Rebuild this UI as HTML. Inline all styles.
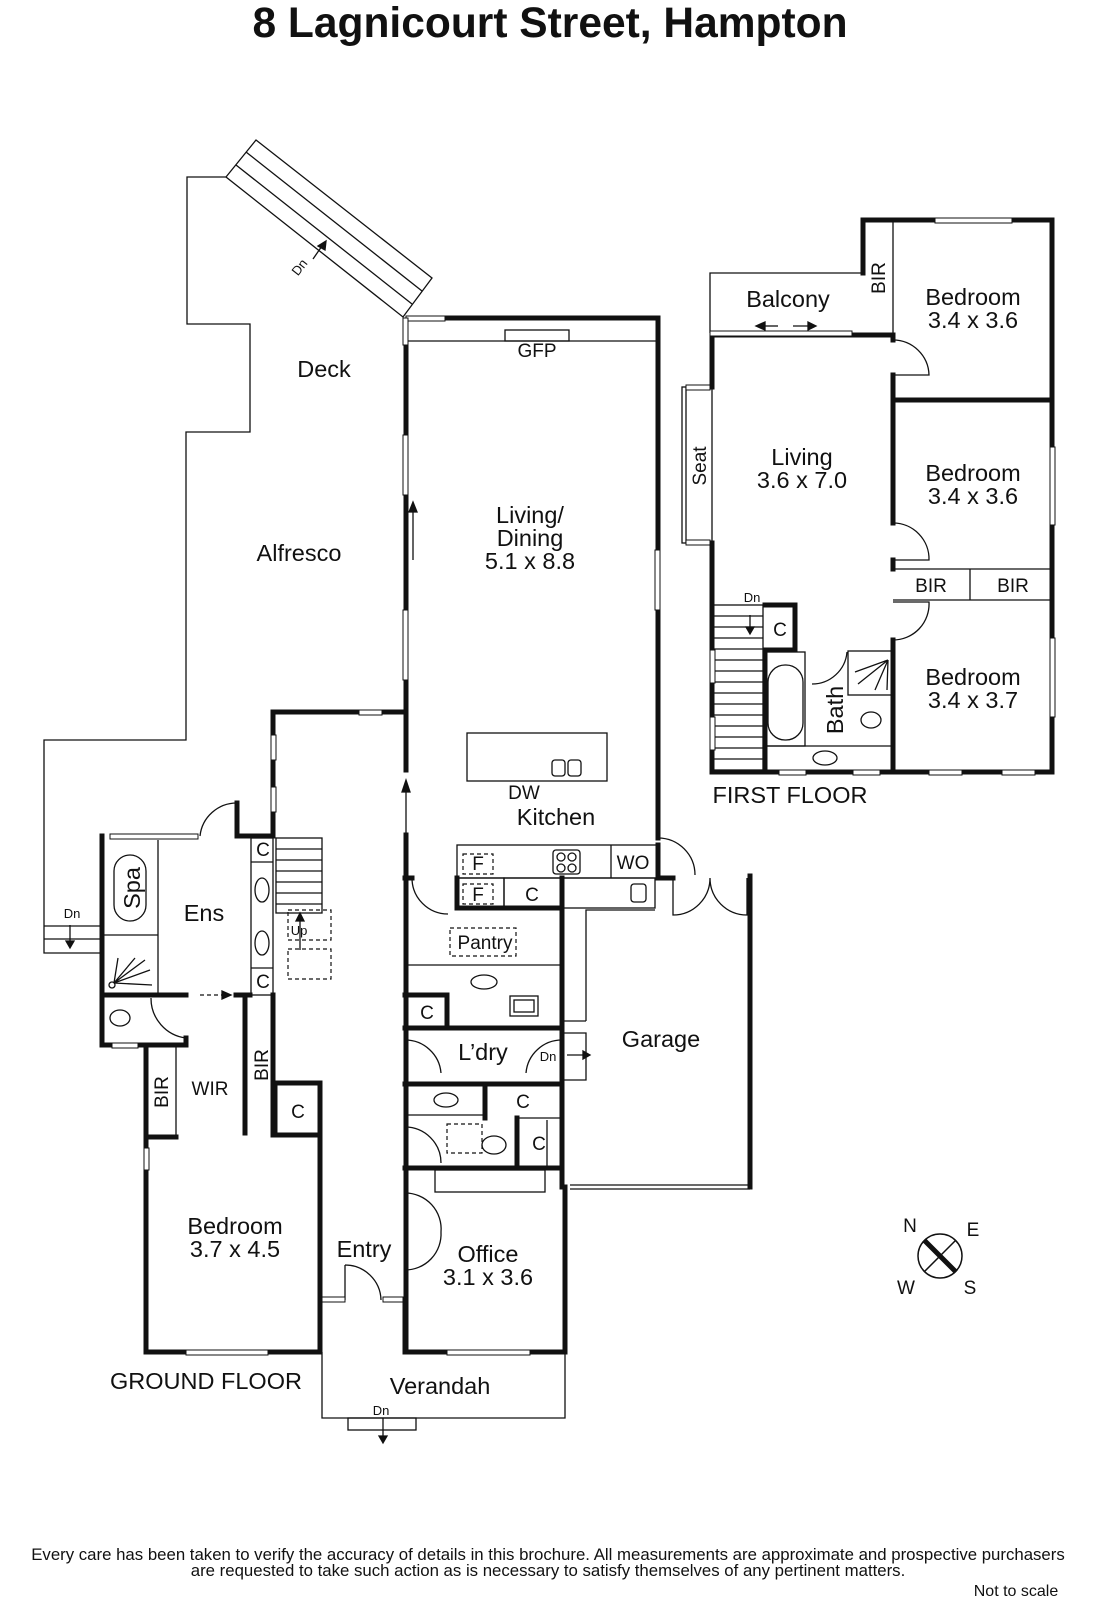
<!DOCTYPE html>
<html><head><meta charset="utf-8"><style>
html,body{margin:0;padding:0;background:#fff}
svg{display:block}
text{font-family:"Liberation Sans",sans-serif;fill:#111}
.t{font-size:23.5px;text-anchor:middle}
.s{font-size:19px;text-anchor:middle}
.xs{font-size:13px;text-anchor:middle}
</style></head><body>
<svg width="1096" height="1600" viewBox="0 0 1096 1600" xmlns="http://www.w3.org/2000/svg">
<text x="550" y="37" style="font-size:42.5px;font-weight:bold;text-anchor:middle">8 Lagnicourt Street, Hampton</text>

<g fill="none" stroke="#111" stroke-width="1.3">
<polygon points="256,140 432,278 403,317 226,177"/>
<line x1="246" y1="152" x2="422" y2="291"/>
<line x1="236" y1="165" x2="412" y2="304"/>
<polyline points="226,177 187,177 187,324 250,324 250,432 186,432 186,740 44,740 44,953 100,953"/>
<line x1="44" y1="926" x2="100" y2="926"/><line x1="44" y1="939" x2="100" y2="939"/>
<polyline points="322,1352 322,1418 565,1418 565,1352"/>
<rect x="348" y="1418" width="68" height="12"/>
<line x1="406" y1="341" x2="658" y2="341"/>
<rect x="505" y="330" width="64" height="11"/>
<rect x="467" y="733" width="140" height="48"/>
<rect x="552" y="760" width="13" height="16" rx="3"/><rect x="568" y="760" width="13" height="16" rx="3"/>
<rect x="457" y="845" width="200" height="33"/>
<line x1="611" y1="845" x2="611" y2="878"/>
<rect x="553" y="850" width="27" height="24" rx="3"/>
<circle cx="561" cy="857" r="4"/><circle cx="572" cy="857" r="4"/><circle cx="561" cy="868" r="4"/><circle cx="572" cy="868" r="4"/>
<rect x="457" y="878" width="47" height="30"/><rect x="504" y="878" width="58" height="30"/>
<rect x="562" y="878" width="93" height="30"/><rect x="631" y="884" width="15" height="18" rx="3"/>
<polyline points="586,1021 586,910 655,910"/><line x1="562" y1="1021" x2="586" y2="1021"/>
<line x1="405" y1="965" x2="562" y2="965"/>
<ellipse cx="484" cy="982" rx="13" ry="7"/>
<rect x="510" y="996" width="28" height="20"/><rect x="514" y="1000" width="20" height="12"/>
<line x1="405" y1="1115" x2="485" y2="1115"/>
<ellipse cx="446" cy="1100" rx="12" ry="7"/>
<rect x="435" y="1170" width="110" height="22"/>
<ellipse cx="494" cy="1145" rx="12" ry="9"/>
<line x1="570" y1="1185" x2="750" y2="1185"/><line x1="570" y1="1189" x2="750" y2="1189"/>
<path d="M673,878 L673,915 A37,37 0 0 0 710,878 M747,878 L747,915 A37,37 0 0 1 710,878"/>
<line x1="158" y1="840" x2="158" y2="993"/><line x1="102" y1="935" x2="158" y2="935"/>
<rect x="114" y="855" width="32" height="66" rx="16"/>
<circle cx="112" cy="985" r="3"/>
<path d="M114,983 L145,960 M114,983 L150,970 M114,983 L152,985 M114,983 L135,958 M114,983 L118,958"/>
<rect x="251" y="838" width="22" height="157"/>
<line x1="251" y1="862" x2="273" y2="862"/><line x1="251" y1="968" x2="273" y2="968"/>
<ellipse cx="262" cy="890" rx="7" ry="12"/><ellipse cx="262" cy="943" rx="7" ry="12"/>
<rect x="276" y="838" width="46" height="75"/>
<line x1="276" y1="849" x2="322" y2="849"/><line x1="276" y1="860" x2="322" y2="860"/><line x1="276" y1="871" x2="322" y2="871"/><line x1="276" y1="882" x2="322" y2="882"/><line x1="276" y1="893" x2="322" y2="893"/><line x1="276" y1="904" x2="322" y2="904"/>
<ellipse cx="120" cy="1018" rx="10" ry="8"/>
<path d="M151,998 A40,40 0 0 0 186,1038"/>
<line x1="176" y1="1045" x2="176" y2="1137"/>
<path d="M200,836 A37,37 0 0 1 237,803"/>
<path d="M405,1040 A36,36 0 0 1 441,1073 M562,1040 A36,36 0 0 0 526,1073"/>
<path d="M405,1127 A36,36 0 0 1 441,1163"/>
<path d="M405,1193 A36,36 0 0 1 441,1232 M405,1270 A36,36 0 0 0 441,1232"/>
<path d="M345,1265 A36,36 0 0 1 381,1300 M345,1265 L345,1300"/>
<path d="M412,878 A36,36 0 0 0 448,914"/>
<path d="M658,838 A37,37 0 0 1 695,875"/>
<polyline points="562,1033 586,1033 586,1080 562,1080"/>
<line x1="547" y1="1120" x2="547" y2="1168"/>
<line x1="517" y1="1118" x2="562" y2="1118"/>
<polyline points="710,333 710,273 862,273"/>
<rect x="682" y="387" width="30" height="156"/>
<line x1="686" y1="387" x2="686" y2="543"/>
<rect x="713" y="605" width="50" height="165"/>
<line x1="713" y1="616" x2="763" y2="616"/><line x1="713" y1="627" x2="763" y2="627"/><line x1="713" y1="638" x2="763" y2="638"/><line x1="713" y1="649" x2="763" y2="649"/><line x1="713" y1="660" x2="763" y2="660"/><line x1="713" y1="671" x2="763" y2="671"/><line x1="713" y1="682" x2="763" y2="682"/><line x1="713" y1="693" x2="763" y2="693"/><line x1="713" y1="704" x2="763" y2="704"/><line x1="713" y1="715" x2="763" y2="715"/><line x1="713" y1="726" x2="763" y2="726"/><line x1="713" y1="737" x2="763" y2="737"/><line x1="713" y1="748" x2="763" y2="748"/><line x1="713" y1="759" x2="763" y2="759"/>
<rect x="765" y="652" width="40" height="94"/>
<rect x="768" y="665" width="35" height="75" rx="17"/>
<line x1="765" y1="746" x2="893" y2="746"/>
<ellipse cx="825" cy="758" rx="12" ry="7"/>
<rect x="848" y="651" width="45" height="44"/>
<path d="M888,660 L855,672 M888,660 L858,684 M888,660 L875,690 M888,660 L887,690"/>
<ellipse cx="871" cy="720" rx="10" ry="8"/>
<path d="M812,684 A35,35 0 0 0 847,652"/>
<line x1="893" y1="222" x2="893" y2="336"/>
<path d="M893,340 A36,36 0 0 1 929,375 L893,375"/>
<path d="M893,523 A36,36 0 0 1 929,560 L893,560"/>
<path d="M893,640 A36,36 0 0 0 929,602 L893,602"/>
<line x1="893" y1="569" x2="1052" y2="569"/><line x1="893" y1="600" x2="1052" y2="600"/><line x1="970" y1="569" x2="970" y2="600"/>
</g>

<g fill="none" stroke="#111" stroke-width="1.2" stroke-dasharray="4,3">
<rect x="288" y="910" width="43" height="30"/><rect x="288" y="949" width="43" height="30"/>
<rect x="450" y="928" width="66" height="28"/>
<rect x="463" y="854" width="30" height="20"/><rect x="463" y="884" width="30" height="20"/>
<rect x="447" y="1124" width="35" height="29"/>
</g>

<g fill="none" stroke="#111" stroke-width="5" stroke-linecap="square" stroke-linejoin="miter">
<path d="M445,318 L658,318"/>
<path d="M406,345 L406,435"/>
<path d="M406,495 L406,610"/>
<path d="M406,680 L406,770"/>
<path d="M406,835 L406,1352"/>
<path d="M658,318 L658,550 M658,610 L658,838"/>
<path d="M273,760 L273,787 M273,812 L273,836 L237,836 L237,803"/>
<path d="M273,735 L273,712 L359,712 M382,712 L406,712"/>
<path d="M102,836 L102,1045 L112,1045 M138,1045 L186,1045 L186,1038"/>
<path d="M102,995 L186,995 M236,995 L250,995"/>
<path d="M146,1045 L146,1148 M146,1170 L146,1352 L186,1352 M268,1352 L320,1352 L320,1135 L275,1135 L275,1083 L320,1083 L320,1130"/>
<path d="M146,1137 L176,1137"/>
<path d="M245,995 L245,1133 M273,995 L273,1135"/>
<path d="M320,1300 L322,1300 M405,1300 L405,1352 L447,1352 M530,1352 L565,1352 L565,1187"/>
<path d="M562,878 L562,1187"/>
<path d="M457,878 L457,908 L562,908 M405,878 L412,878"/>
<path d="M405,995 L447,995 L447,1028 L405,1028 M405,1028 L562,1028"/>
<path d="M405,1084 L562,1084 M485,1084 L485,1118 M517,1118 L517,1168 M405,1168 L562,1168"/>
<path d="M658,845 L658,878 L673,878"/>
<path d="M750,876 L750,1187"/>
<path d="M863,273 L863,220 L935,220 M1012,220 L1052,220 L1052,447 M1052,525 L1052,638 M1052,717 L1052,772 L1035,772 M1002,772 L962,772 M929,772 L880,772 M853,772 L806,772 M779,772 L712,772 L712,750 M712,717 L712,683 M712,650 L712,543 M712,387 L712,335 L893,335 L893,340 M893,375 L893,400 L1052,400 M893,400 L893,523 M893,560 L893,569 M893,640 L893,772"/>
<path d="M765,605 L795,605 L795,650 L765,650 L765,770"/>
</g>

<g fill="#fff" stroke="#111" stroke-width="1">
<rect x="406" y="316" width="39" height="5"/><rect x="403" y="318" width="5" height="27"/>
<rect x="403" y="435" width="5" height="60"/><rect x="403" y="610" width="5" height="70"/>
<rect x="655" y="550" width="5" height="60"/>
<rect x="359" y="710" width="23" height="5"/>
<rect x="271" y="735" width="5" height="25"/><rect x="271" y="787" width="5" height="25"/>
<rect x="110" y="834" width="88" height="5"/>
<rect x="112" y="1043" width="26" height="5"/>
<rect x="144" y="1148" width="5" height="22"/>
<rect x="186" y="1350" width="82" height="5"/>
<rect x="447" y="1350" width="83" height="5"/>
<rect x="322" y="1297" width="23" height="5"/><rect x="383" y="1297" width="20" height="5"/>
<rect x="710" y="331" width="142" height="5"/>
<rect x="935" y="218" width="77" height="5"/>
<rect x="1050" y="447" width="5" height="78"/><rect x="1050" y="638" width="5" height="79"/>
<rect x="779" y="770" width="27" height="5"/><rect x="853" y="770" width="27" height="5"/>
<rect x="929" y="770" width="33" height="5"/><rect x="1002" y="770" width="33" height="5"/>
<rect x="710" y="650" width="5" height="33"/><rect x="710" y="717" width="5" height="33"/>
<rect x="686" y="385" width="24" height="5"/><rect x="686" y="540" width="24" height="5"/>
</g>

<g stroke="#111" stroke-width="1.3" fill="#111">
<line x1="413" y1="560" x2="413" y2="505"/><polygon points="409,512 417,512 413,502"/>
<line x1="406" y1="835" x2="406" y2="785"/><polygon points="402,792 410,792 406,780"/>
<line x1="70" y1="925" x2="70" y2="945"/><polygon points="66,941 74,941 70,948"/>
<line x1="300" y1="950" x2="300" y2="915"/><polygon points="296,921 304,921 300,913"/>
<line x1="200" y1="995" x2="224" y2="995" stroke-dasharray="4,3"/><polygon points="222,991 222,999 231,995"/>
<line x1="567" y1="1055" x2="585" y2="1055"/><polygon points="583,1051 583,1059 590,1055"/>
<line x1="383" y1="1418" x2="383" y2="1440"/><polygon points="379,1436 387,1436 383,1443"/>
<line x1="750" y1="615" x2="750" y2="630"/><polygon points="746,627 754,627 750,634"/>
<line x1="313" y1="259" x2="322" y2="246"/><polygon points="318,246 325,250 326,241"/>
<line x1="762" y1="326" x2="778" y2="326"/><polygon points="765,322 765,330 756,326"/>
<line x1="793" y1="326" x2="810" y2="326"/><polygon points="808,322 808,330 816,326"/>
</g>

<g stroke="#111" fill="none" stroke-width="1.5">
<circle cx="940" cy="1256" r="22"/>
<line x1="924" y1="1240" x2="956" y2="1272" stroke-width="5"/>
<line x1="956" y1="1240" x2="924" y2="1272"/>
</g>
<text x="910" y="1232" class="s">N</text><text x="973" y="1236" class="s">E</text>
<text x="906" y="1294" class="s">W</text><text x="970" y="1294" class="s">S</text>

<text x="324" y="377" class="t">Deck</text>
<text x="299" y="561" class="t">Alfresco</text>
<text x="537" y="357" class="s">GFP</text>
<text x="530" y="523" class="t">Living/</text>
<text x="530" y="546" class="t">Dining</text>
<text x="530" y="569" class="t">5.1 x 8.8</text>
<text x="524" y="799" class="s">DW</text>
<text x="556" y="825" class="t">Kitchen</text>
<text x="478" y="870" class="s">F</text><text x="478" y="901" class="s">F</text>
<text x="532" y="901" class="s">C</text>
<text x="633" y="869" class="s">WO</text>
<text x="485" y="949" class="s">Pantry</text>
<text x="427" y="1019" class="s">C</text>
<text x="483" y="1060" class="t">L’dry</text>
<text x="548" y="1061" class="xs">Dn</text>
<text x="523" y="1108" class="s">C</text>
<text x="539" y="1150" class="s">C</text>
<text x="661" y="1047" class="t">Garage</text>
<text x="204" y="921" class="t">Ens</text>
<text x="263" y="856" class="s">C</text><text x="263" y="988" class="s">C</text>
<text x="299" y="935" class="xs">Up</text>
<text x="72" y="918" class="xs">Dn</text>
<text x="298" y="1118" class="s">C</text>
<text x="210" y="1095" class="s">WIR</text>
<text x="235" y="1234" class="t">Bedroom</text>
<text x="235" y="1257" class="t">3.7 x 4.5</text>
<text x="364" y="1257" class="t">Entry</text>
<text x="488" y="1262" class="t">Office</text>
<text x="488" y="1285" class="t">3.1 x 3.6</text>
<text x="440" y="1394" class="t">Verandah</text>
<text x="381" y="1415" class="xs">Dn</text>
<text x="206" y="1389" class="t">GROUND FLOOR</text>
<text x="788" y="307" class="t">Balcony</text>
<text x="802" y="465" class="t">Living</text>
<text x="802" y="488" class="t">3.6 x 7.0</text>
<text x="973" y="305" class="t">Bedroom</text><text x="973" y="328" class="t">3.4 x 3.6</text>
<text x="973" y="481" class="t">Bedroom</text><text x="973" y="504" class="t">3.4 x 3.6</text>
<text x="973" y="685" class="t">Bedroom</text><text x="973" y="708" class="t">3.4 x 3.7</text>
<text x="931" y="592" class="s">BIR</text><text x="1013" y="592" class="s">BIR</text>
<text x="780" y="636" class="s">C</text>
<text x="752" y="602" class="xs">Dn</text>
<text x="790" y="803" class="t">FIRST FLOOR</text>
<text transform="translate(140,888) rotate(-90)" class="t">Spa</text>
<text transform="translate(268,1065) rotate(-90)" class="s">BIR</text>
<text transform="translate(168,1092) rotate(-90)" class="s">BIR</text>
<text transform="translate(885,278) rotate(-90)" class="s">BIR</text>
<text transform="translate(706,466) rotate(-90)" class="s">Seat</text>
<text transform="translate(843,710) rotate(-90)" class="t">Bath</text>
<text transform="translate(303,270) rotate(-52)" class="xs">Dn</text>

<text x="548" y="1560" style="font-size:16.8px;text-anchor:middle">Every care has been taken to verify the accuracy of details in this brochure.  All measurements are approximate and prospective purchasers</text>
<text x="548" y="1576" style="font-size:16.8px;text-anchor:middle">are requested to take such action as is necessary to satisfy themselves of any pertinent matters.</text>
<text x="1016" y="1596" style="font-size:16px;text-anchor:middle">Not to scale</text>
</svg>
</body></html>
